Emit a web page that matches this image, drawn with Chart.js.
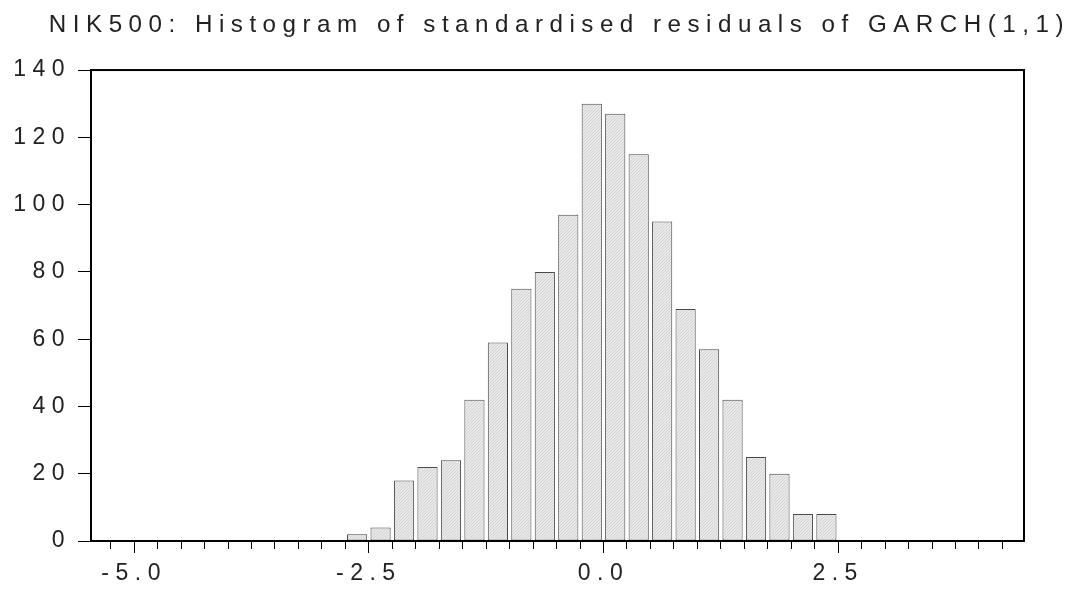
<!DOCTYPE html>
<html>
<head>
<meta charset="utf-8">
<script src="https://cdn.jsdelivr.net/npm/chart.js@4.4.1/dist/chart.umd.min.js"></script>
<style>
html,body{margin:0;padding:0;background:#fff;}
#wrap{position:relative;width:1070px;height:591px;}
</style>
</head>
<body>
<div id="wrap"><canvas id="c"></canvas></div>
<script>
// ---- data ----
const chartTitle = 'NIK500: Histogram of standardised residuals of GARCH(1,1)';
const binCenters = [-2.625, -2.375, -2.125, -1.875, -1.625, -1.375, -1.125, -0.875, -0.625, -0.375, -0.125,
                    0.125, 0.375, 0.625, 0.875, 1.125, 1.375, 1.625, 1.875, 2.125, 2.375];
const counts = [2, 4, 18, 22, 24, 42, 59, 75, 80, 97, 130,
                127, 115, 95, 69, 57, 42, 25, 20, 8, 8];
const xTickValues = [-5.0, -2.5, 0.0, 2.5];
const xTickLabels = ['-5.0', '-2.5', '0.0', '2.5'];
const yTickValues = [0, 20, 40, 60, 80, 100, 120, 140];
const yTickLabels = ['0', '20', '40', '60', '80', '100', '120', '140'];

// ---- styling helpers ----
const FONT = "'Liberation Sans', Arial, sans-serif";
const SPACING = '6.5px';

function hatchPattern() {
  const c = document.createElement('canvas');
  c.width = 3; c.height = 3;
  const g = c.getContext('2d');
  g.fillStyle = '#e9e9e9';
  g.fillRect(0, 0, 3, 3);
  g.fillStyle = '#d2d2d2';
  for (let i = 0; i < 3; i++) g.fillRect(i, 2 - i, 1, 1);
  return g.createPattern(c, 'repeat');
}

function labelFor(values, labels, v) {
  for (let i = 0; i < values.length; i++) {
    if (Math.abs(values[i] - v) < 1e-9) return labels[i];
  }
  return '';
}

const spacingPlugin = {
  id: 'letterSpacing',
  beforeLayout(chart) { chart.ctx.letterSpacing = SPACING; },
  beforeDraw(chart) { chart.ctx.letterSpacing = SPACING; }
};

const framePlugin = {
  id: 'frame',
  afterDraw(chart) {
    const {left, top, right, bottom} = chart.chartArea;
    const ctx = chart.ctx;
    ctx.save();
    ctx.strokeStyle = '#000';
    ctx.lineWidth = 2;
    ctx.strokeRect(left, top, right - left, bottom - top);
    ctx.restore();
  }
};

const ctx = document.getElementById('c');
new Chart(ctx, {
  type: 'bar',
  data: {
    datasets: [{
      data: binCenters.map((x, i) => ({x: x, y: counts[i]})),
      backgroundColor: hatchPattern(),
      borderColor: '#4a4a4a',
      borderWidth: 1,
      borderSkipped: false,
      barPercentage: 0.86,
      categoryPercentage: 1.0
    }]
  },
  options: {
    responsive: true,
    maintainAspectRatio: false,
    animation: false,
    events: [],
    layout: {padding: {left: 0, right: 0, top: 0, bottom: 0}},
    plugins: {
      legend: {display: false},
      tooltip: {enabled: false},
      title: {
        display: true,
        text: chartTitle,
        align: 'end',
        color: '#222',
        font: {family: FONT, size: 24.2, weight: 'normal', lineHeight: 1.2},
        padding: {top: 11, bottom: 30}
      }
    },
    scales: {
      x: {
        type: 'linear',
        position: 'bottom',
        min: -5.46,
        max: 4.48,
        offset: false,
        grid: {
          display: true,
          drawOnChartArea: false,
          offset: false,
          tickLength: 12,
          tickColor: '#000',
          tickWidth: 1,
          tickBorderDash: (c) => (c.tick && labelFor(xTickValues, xTickLabels, c.tick.value) !== '') ? [] : [8, 40]
        },
        border: {display: false},
        ticks: {
          stepSize: 0.25,
          includeBounds: false,
          autoSkip: false,
          maxRotation: 0,
          minRotation: 0,
          padding: 7,
          color: '#222',
          font: {family: FONT, size: 23},
          callback: (v) => labelFor(xTickValues, xTickLabels, v)
        },
        afterFit: (s) => { s.height = 50; }
      },
      y: {
        type: 'linear',
        position: 'left',
        min: 0,
        max: 140,
        grid: {
          display: true,
          drawOnChartArea: false,
          tickLength: 13,
          tickColor: '#000',
          tickWidth: 1
        },
        border: {display: false},
        ticks: {
          stepSize: 20,
          padding: 7,
          color: '#222',
          font: {family: FONT, size: 23},
          callback: (v) => labelFor(yTickValues, yTickLabels, v)
        },
        afterFit: (s) => { s.width = 91; }
      },
      yRight: {
        type: 'linear',
        position: 'right',
        display: true,
        grid: {display: false},
        border: {display: false},
        ticks: {display: false},
        afterFit: (s) => { s.width = 46; }
      }
    }
  },
  plugins: [spacingPlugin, framePlugin]
});
</script>
</body>
</html>
